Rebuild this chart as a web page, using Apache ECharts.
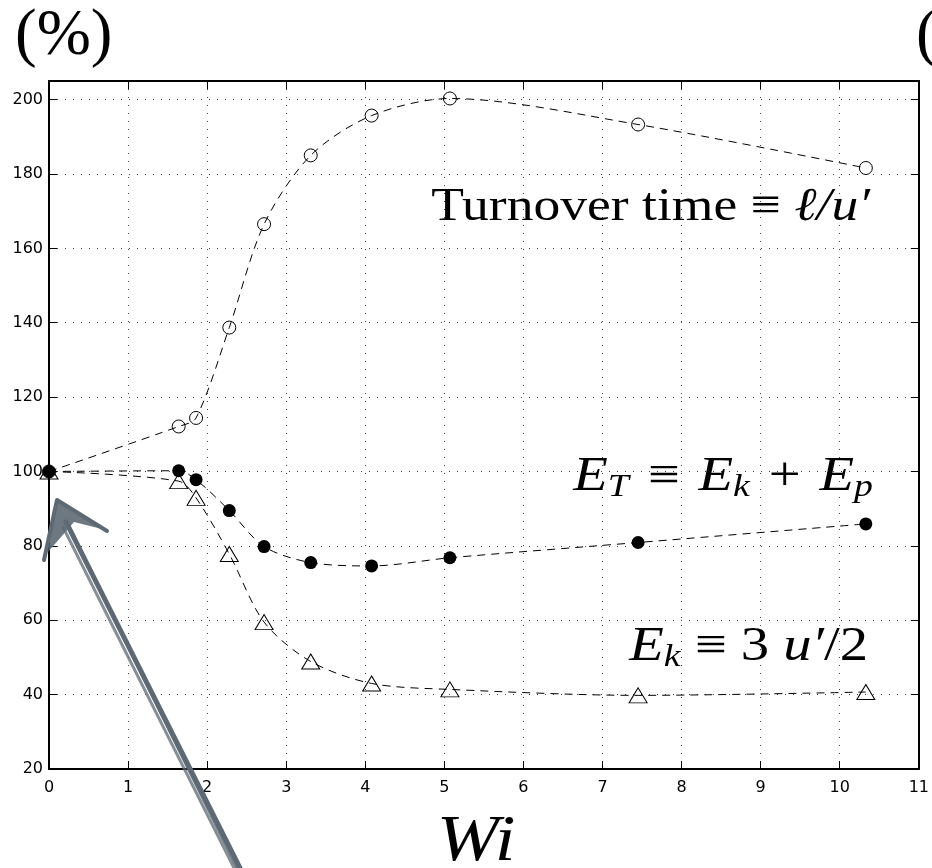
<!DOCTYPE html>
<html>
<head>
<meta charset="utf-8">
<script src="https://cdn.jsdelivr.net/npm/echarts@6/dist/echarts.min.js"></script>
<style>
  html, body { margin: 0; padding: 0; background: #fff; }
  #chart { width: 932px; height: 868px; }
</style>
</head>
<body>
<div id="chart"></div>
<script>
// Wi values (x) shared by the three curves
const wi = [0, 1.64, 1.86, 2.28, 2.72, 3.31, 4.08, 5.07, 7.45, 10.33];
// Turnover time l/u' in % of the unstratified case
const turnover = [100, 112.1, 114.4, 138.7, 166.5, 185.0, 195.7, 200.3, 193.3, 181.6];
// Total energy E_T = E_k + E_p in %
const totalEnergy = [100, 100.2, 97.8, 89.5, 79.8, 75.5, 74.6, 76.8, 80.9, 85.9];
// Kinetic energy E_k = 3u'/2 in %
const kineticEnergy = [100, 97.4, 92.9, 77.8, 59.5, 48.9, 43.0, 41.4, 39.8, 40.7];
// Axis ranges / ticks
const xRange = [0, 11];
const yRange = [20, 205];
const xStep = 1;
const yStep = 20;

const pairs = (ys) => wi.map((x, i) => [x, ys[i]]);

const chart = echarts.init(document.getElementById('chart'), null, { renderer: 'canvas' });

const dotted = { color: '#444', width: 1, type: [1, 7] };
const frameLine = { show: true, onZero: false, lineStyle: { color: '#000', width: 2 } };
const sansLabel = { color: '#000', fontFamily: 'DejaVu Sans, sans-serif', fontSize: 16 };
const dashed = { color: '#000', width: 1, type: [8, 6] };
const serif = 'Liberation Serif, Times New Roman, serif';
const tick = { show: true, inside: true, length: 8, lineStyle: { color: '#000', width: 1 } };

const series = [
  {
    name: 'Turnover time',
    type: 'line',
    data: pairs(turnover),
    smooth: 0.3,
    symbol: 'circle',
    symbolSize: 13,
    lineStyle: dashed,
    itemStyle: { color: 'rgba(0,0,0,0)', borderColor: '#000', borderWidth: 1 },
    z: 3
  },
  {
    name: 'E_k',
    type: 'line',
    data: pairs(kineticEnergy),
    smooth: 0.3,
    symbol: 'triangle',
    symbolSize: [18, 15],
    lineStyle: dashed,
    itemStyle: { color: 'rgba(0,0,0,0)', borderColor: '#000', borderWidth: 1 },
    z: 4
  },
  {
    name: 'E_T',
    type: 'line',
    data: pairs(totalEnergy),
    smooth: 0.3,
    symbol: 'circle',
    symbolSize: 13,
    lineStyle: dashed,
    itemStyle: { color: '#000', borderColor: '#000', borderWidth: 0 },
    z: 5
  }
];
series.forEach(s => { s.animation = false; s.emphasis = { disabled: true }; s.silent = true; });

const arrowColor = '#5d6973';

// rich-text styles for the math annotations
const mathRich = {
  i: { font: 'italic 48px ' + serif, fill: '#000', lineHeight: 54 },
  r: { font: '48px ' + serif, fill: '#000', lineHeight: 54 },
  op: { font: '48px ' + serif, fill: '#000', lineHeight: 54, padding: [0, 4, 0, 4] },
  s: { font: 'italic 32px ' + serif, fill: '#000', lineHeight: 22, verticalAlign: 'bottom' }
};

chart.setOption({
  animation: false,
  backgroundColor: '#fff',
  grid: { left: 49, right: 9, top: 81, bottom: 99, containLabel: false },
  xAxis: [
    {
      type: 'value', min: xRange[0], max: xRange[1], interval: xStep, position: 'bottom',
      axisLine: frameLine, axisTick: tick,
      axisLabel: Object.assign({ margin: 11 }, sansLabel),
      splitLine: { show: true, lineStyle: dotted }
    },
    {
      type: 'value', min: xRange[0], max: xRange[1], interval: xStep, position: 'top',
      axisLine: frameLine, axisTick: tick,
      axisLabel: { show: false }, splitLine: { show: false }
    }
  ],
  yAxis: [
    {
      type: 'value', min: yRange[0], max: yRange[1], interval: yStep, position: 'left',
      axisLine: frameLine, axisTick: tick,
      axisLabel: Object.assign({ margin: 6, showMaxLabel: false }, sansLabel),
      splitLine: { show: true, lineStyle: dotted }
    },
    {
      type: 'value', min: yRange[0], max: yRange[1], interval: yStep, position: 'right',
      axisLine: frameLine, axisTick: tick,
      axisLabel: { show: false }, splitLine: { show: false }
    }
  ],
  series: series,
  graphic: [
    { type: 'text', x: 15, y: 4, silent: true,
      style: { text: '(%)', font: '65px ' + serif, fill: '#000', verticalAlign: 'top' } },
    { type: 'text', x: 916, y: 4, silent: true,
      style: { text: '(', font: '65px ' + serif, fill: '#000', verticalAlign: 'top' } },
    { type: 'text', x: 476, y: 843, scaleX: 1.13, silent: true,
      style: { text: 'Wi', font: 'italic 66px ' + serif, fill: '#000', align: 'center', verticalAlign: 'middle' } },
    { type: 'text', x: 870, y: 208, scaleX: 1.14, silent: true, z: 10,
      style: {
        text: '{r|Turnover time ≡ }{i|ℓ/u′}', align: 'right', verticalAlign: 'middle',
        rich: {
          r: { font: '47px ' + serif, fill: '#000', lineHeight: 52 },
          i: { font: 'italic 47px ' + serif, fill: '#000', lineHeight: 52 }
        }
      } },
    { type: 'text', x: 873, y: 477, scaleX: 1.18, silent: true, z: 10,
      style: {
        text: '{i|E}{s|T}{op| ≡ }{i|E}{s|k}{op| + }{i|E}{s|p}', align: 'right', verticalAlign: 'middle',
        rich: mathRich
      } },
    { type: 'text', x: 868, y: 647, scaleX: 1.18, silent: true, z: 10,
      style: {
        text: '{i|E}{s|k}{r| ≡ 3 }{i|u′}{r|/2}', align: 'right', verticalAlign: 'middle',
        rich: mathRich
      } },
    // hand-drawn grey arrow pointing at the Wi = 0 reference point
    { type: 'polygon', silent: true, z: 20,
      shape: { points: [[57, 500], [106, 530], [74, 522], [48, 552]] },
      style: { fill: arrowColor, opacity: 0.9 } },
    { type: 'polyline', silent: true, z: 20,
      shape: { points: [[44, 560], [57, 500], [107, 531]] },
      style: { stroke: arrowColor, lineWidth: 4, fill: null, lineJoin: 'round', lineCap: 'round' } },
    { type: 'polyline', silent: true, z: 20,
      shape: { points: [[66, 522], [241, 870]] },
      style: { stroke: arrowColor, lineWidth: 5, fill: null, lineCap: 'round' } },
    { type: 'polyline', silent: true, z: 20,
      shape: { points: [[69, 526], [238, 870]] },
      style: { stroke: arrowColor, lineWidth: 3, fill: null, lineCap: 'round', opacity: 0.85 } },
    { type: 'polyline', silent: true, z: 20,
      shape: { points: [[63, 527], [235, 870]] },
      style: { stroke: arrowColor, lineWidth: 3, fill: null, lineCap: 'round', opacity: 0.75 } }
  ]
});
</script>
</body>
</html>
